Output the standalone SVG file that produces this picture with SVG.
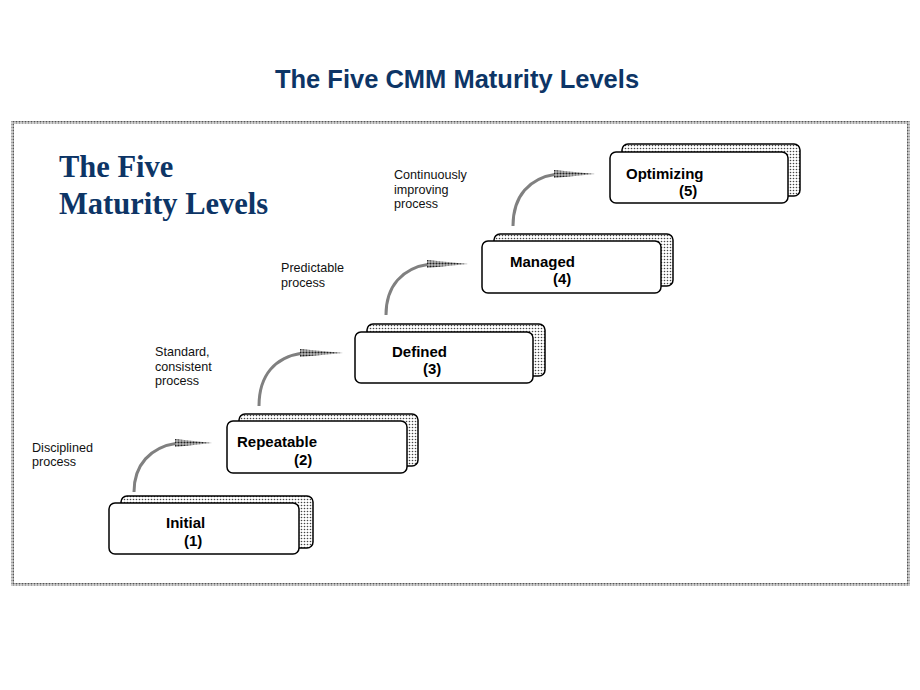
<svg xmlns="http://www.w3.org/2000/svg" width="920" height="690" viewBox="0 0 920 690">
<defs>
<pattern id="dots" width="3" height="3" patternUnits="userSpaceOnUse">
<rect width="3" height="3" fill="#ffffff"/>
<circle cx="1.5" cy="1.5" r="0.8" fill="#444"/>
</pattern>
<pattern id="bdots" width="3" height="3" patternUnits="userSpaceOnUse">
<rect width="3" height="3" fill="#d8d8d8"/>
<circle cx="1.5" cy="1.5" r="1" fill="#555"/>
</pattern>
<pattern id="hdots" width="3" height="3" patternUnits="userSpaceOnUse">
<rect width="3" height="3" fill="#bbb"/>
<circle cx="1.5" cy="1.5" r="1.1" fill="#222"/>
</pattern>
<style>
.back{fill:url(#dots);stroke:#000;stroke-width:1.5}
.front{fill:#fff;stroke:#000;stroke-width:1.5}
.lbl{font-family:"Liberation Sans",Arial,sans-serif;font-weight:bold;font-size:15px;fill:#000}
.note{font-family:"Liberation Sans",Arial,sans-serif;font-size:12.6px;fill:#111}
.shaft{fill:none;stroke:#808080;stroke-width:3}
.head{fill:url(#hdots);stroke:none}
</style>
</defs>
<rect width="920" height="690" fill="#fff"/>
<text x="457" y="88" text-anchor="middle" font-family="Liberation Sans,Arial,sans-serif" font-weight="bold" font-size="25.5" fill="#0d3566">The Five CMM Maturity Levels</text>
<rect x="12.5" y="122.5" width="896" height="462" fill="none" stroke="url(#bdots)" stroke-width="3"/>
<text font-family="Liberation Serif,Times New Roman,serif" font-weight="bold" font-size="30.5" fill="#0d3566"><tspan x="59" y="177">The Five</tspan><tspan x="59" y="214">Maturity Levels</tspan></text>

<g id="connectors">
<g id="arrow1"><path class="shaft" d="M134,492 C134,465 150,447 178,443"/><polygon class="head" points="175,439 212,443 175,447"/></g>
<g id="arrow2" transform="translate(125,-90)"><path class="shaft" d="M134,496 C134,465 150,447 178,443"/><polygon class="head" points="175,439 218,443 175,447"/></g>
<g id="arrow3" transform="translate(252,-179)"><path class="shaft" d="M134,494 C134,465 150,447 178,443"/><polygon class="head" points="175,439 216,443 175,447"/></g>
<g id="arrow4" transform="translate(379,-269)"><path class="shaft" d="M134,495 C134,465 150,447 178,443"/><polygon class="head" points="175,439 216,443 175,447"/></g>
</g>

<g id="note1"><text class="note"><tspan x="32" y="452">Disciplined</tspan><tspan x="32" y="466">process</tspan></text></g>
<g id="note2"><text class="note"><tspan x="155" y="356">Standard,</tspan><tspan x="155" y="371">consistent</tspan><tspan x="155" y="385">process</tspan></text></g>
<g id="note3"><text class="note"><tspan x="281" y="272">Predictable</tspan><tspan x="281" y="287">process</tspan></text></g>
<g id="note4"><text class="note"><tspan x="394" y="179">Continuously</tspan><tspan x="394" y="194">improving</tspan><tspan x="394" y="208">process</tspan></text></g>

<g id="level1">
<rect class="back" x="121" y="496" width="192" height="52" rx="6"/>
<rect class="front" x="109" y="503" width="190" height="51" rx="6"/>
<text class="lbl" x="166" y="528">Initial</text>
<text class="lbl" x="184" y="546">(1)</text>
</g>
<g id="level2">
<rect class="back" x="239" y="414" width="179" height="52" rx="6"/>
<rect class="front" x="227" y="421" width="180" height="52" rx="6"/>
<text class="lbl" x="237" y="447">Repeatable</text>
<text class="lbl" x="294" y="465">(2)</text>
</g>
<g id="level3">
<rect class="back" x="367" y="324" width="178" height="52" rx="6"/>
<rect class="front" x="355" y="332" width="178" height="51" rx="6"/>
<text class="lbl" x="392" y="357">Defined</text>
<text class="lbl" x="423" y="374">(3)</text>
</g>
<g id="level4">
<rect class="back" x="494" y="234" width="179" height="52" rx="6"/>
<rect class="front" x="482" y="241" width="179" height="52" rx="6"/>
<text class="lbl" x="510" y="267">Managed</text>
<text class="lbl" x="553" y="284">(4)</text>
</g>
<g id="level5">
<rect class="back" x="622" y="144" width="178" height="52" rx="6"/>
<rect class="front" x="610" y="152" width="178" height="51" rx="6"/>
<text class="lbl" x="626" y="179">Optimizing</text>
<text class="lbl" x="679" y="196">(5)</text>
</g>
</svg>
